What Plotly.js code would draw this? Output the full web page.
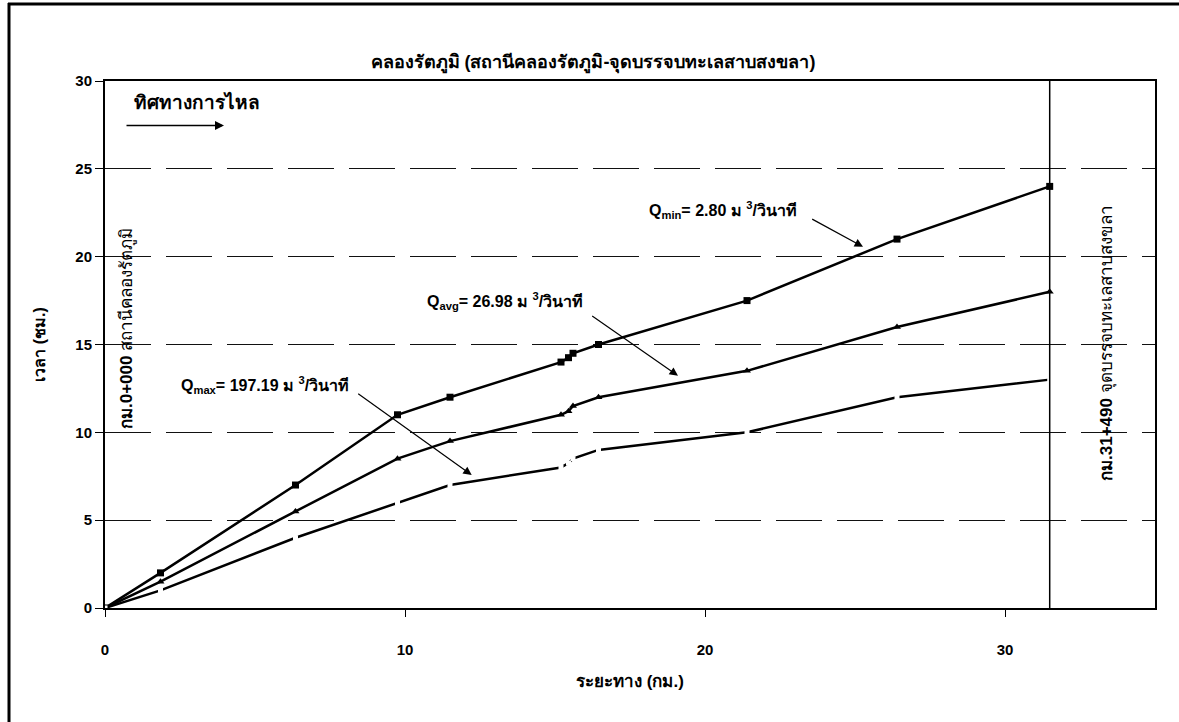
<!DOCTYPE html>
<html>
<head>
<meta charset="utf-8">
<script src="https://cdn.plot.ly/plotly-3.0.1.min.js"></script>
<style>html,body{margin:0;padding:0;background:#fff;}#chart{width:1179px;height:722px;}</style>
</head>
<body>
<div id="chart"></div>
<script>
// Distance (km) of each station along the canal
const distanceKm = [0, 1.85, 6.35, 9.75, 11.5, 15.2, 15.45, 15.6, 16.45, 21.4, 26.4, 31.49];
// Travel time (hours) for each discharge scenario
const timeQmin = [0, 2, 7, 11, 12, 14, 14.25, 14.5, 15, 17.5, 21, 24];
const timeQavg = [0, 1.5, 5.5, 8.5, 9.5, 11, 11.2, 11.5, 12, 13.5, 16, 18];
const timeQmax = [0, 1, 4, 6, 7, 8, 8.25, 8.5, 9, 10, 12, 13];
const xTicks = [0, 10, 20, 30];
const yTicks = [0, 5, 10, 15, 20, 25, 30];
const endKm = 31.49;

const FONT = '"Liberation Sans", Arial, "Noto Sans", sans-serif';

// plot area pixel geometry (for paper coords of frame)
const L = 105, R = 24, T = 81, B = 114, W = 1179, H = 722;
const pw = W - L - R, ph = H - T - B;
const px = x => (x - L) / pw;
const py = y => (H - B - y) / ph;

const traces = [
  {x: distanceKm, y: timeQmin, mode: 'lines+markers', line: {color: '#000', width: 2.5},
   marker: {symbol: 'square', size: 7, color: '#000'}, name: 'Qmin'},
  {x: distanceKm, y: timeQavg, mode: 'lines+markers', line: {color: '#000', width: 2.5},
   marker: {symbol: 'triangle-up', size: 7, color: '#000'}, name: 'Qavg'},
  {x: distanceKm, y: timeQmax, mode: 'lines+markers', line: {color: '#000', width: 2.5},
   marker: {symbol: 'square', size: 5, color: '#fff'}, name: 'Qmax'}
];

const annFont = {family: FONT, size: 16, color: '#000'};
const c = {xanchor: 'center', yanchor: 'middle'};

const layout = {
  width: W, height: H,
  margin: {l: L, r: R, t: T, b: B},
  paper_bgcolor: '#fff', plot_bgcolor: '#fff',
  showlegend: false,
  font: {family: FONT, color: '#000'},
  title: {text: '<b>คลองรัตภูมิ (สถานีคลองรัตภูมิ-จุดบรรจบทะเลสาบสงขลา)</b>',
          font: {family: FONT, size: 18, color: '#000'}, x: px(593), xanchor: 'center', xref: 'paper',
          y: 1 - 62 / H, yanchor: 'middle'},
  xaxis: {
    range: [0, 35], tickvals: xTicks, ticktext: xTicks.map(String),
    showgrid: false, zeroline: false,
    showline: true, linecolor: '#000', linewidth: 2, mirror: true,
    ticks: 'outside', ticklen: 7, tickcolor: '#000', tickwidth: 1,
    ticklabelstandoff: 20,
    tickfont: {family: FONT, size: 15, color: '#000', weight: 'bold'},
    title: {text: '<b>ระยะทาง (กม.)</b>', font: {family: FONT, size: 17, color: '#000'}, standoff: 18}
  },
  yaxis: {
    range: [0, 30], tickvals: yTicks, ticktext: yTicks.map(String),
    showgrid: true, gridcolor: '#111', gridwidth: 1, griddash: '46px,15px',
    zeroline: false,
    showline: true, linecolor: '#000', linewidth: 2, mirror: true,
    ticks: 'outside', ticklen: 8, tickcolor: '#000', tickwidth: 1,
    tickfont: {family: FONT, size: 15, color: '#000', weight: 'bold'},
    title: {text: '<b>เวลา (ชม.)</b>', font: {family: FONT, size: 16, color: '#000'}, standoff: 26}
  },
  shapes: [
    {type: 'line', xref: 'x', yref: 'y', x0: endKm, x1: endKm, y0: 0, y1: 30,
     line: {color: '#000', width: 1.5}},
    // outer frame (left and top)
    {type: 'line', xref: 'paper', yref: 'paper', x0: px(9), x1: px(9), y0: py(3), y1: py(722),
     line: {color: '#000', width: 3}},
    {type: 'line', xref: 'paper', yref: 'paper', x0: px(8), x1: px(1179), y0: py(4), y1: py(4),
     line: {color: '#000', width: 3}}
  ],
  annotations: [
    Object.assign({xref: 'paper', yref: 'paper', x: px(197), y: py(102), text: '<b>ทิศทางการไหล</b>',
     showarrow: false, font: {family: FONT, size: 19, color: '#000'}}, c),
    {xref: 'paper', yref: 'paper', x: px(224), y: py(125.5), ax: px(125), ay: py(125.5),
     axref: 'paper', ayref: 'paper', text: '', showarrow: true, arrowhead: 2, arrowsize: 1.2,
     arrowwidth: 1.5, arrowcolor: '#000'},
    Object.assign({xref: 'paper', yref: 'paper', x: px(723), y: py(210),
     text: '<b>Q<sub>min</sub>= 2.80 ม <sup>3</sup>/วินาที</b>', showarrow: false, font: annFont}, c),
    {xref: 'paper', yref: 'paper', x: px(863), y: py(246.7), ax: px(810.7), ay: py(218.3),
     axref: 'paper', ayref: 'paper', text: '', showarrow: true, arrowhead: 2, arrowsize: 1.4,
     arrowwidth: 1.2, arrowcolor: '#000'},
    Object.assign({xref: 'paper', yref: 'paper', x: px(505), y: py(301),
     text: '<b>Q<sub>avg</sub>= 26.98 ม <sup>3</sup>/วินาที</b>', showarrow: false, font: annFont}, c),
    {xref: 'paper', yref: 'paper', x: px(678), y: py(375.7), ax: px(590.7), ay: py(315),
     axref: 'paper', ayref: 'paper', text: '', showarrow: true, arrowhead: 2, arrowsize: 1.4,
     arrowwidth: 1.2, arrowcolor: '#000'},
    Object.assign({xref: 'paper', yref: 'paper', x: px(265), y: py(385),
     text: '<b>Q<sub>max</sub>= 197.19 ม <sup>3</sup>/วินาที</b>', showarrow: false, font: annFont}, c),
    {xref: 'paper', yref: 'paper', x: px(471.7), y: py(475), ax: px(356.7), ay: py(392.7),
     axref: 'paper', ayref: 'paper', text: '', showarrow: true, arrowhead: 2, arrowsize: 1.4,
     arrowwidth: 1.2, arrowcolor: '#000'},
    Object.assign({xref: 'paper', yref: 'paper', x: px(127), y: py(329), textangle: -90,
     text: '<b>กม.0+000</b> สถานีคลองรัตภูมิ', showarrow: false,
     font: {family: FONT, size: 17, color: '#000'}}, c),
    Object.assign({xref: 'paper', yref: 'paper', x: px(1107), y: py(343), textangle: -90,
     text: '<b>กม.31+490</b> จุดบรรจบทะเลสาบสงขลา', showarrow: false,
     font: {family: FONT, size: 17, color: '#000'}}, c)
  ]
};

Plotly.newPlot('chart', traces, layout, {displayModeBar: false, staticPlot: true});
</script>
</body>
</html>
